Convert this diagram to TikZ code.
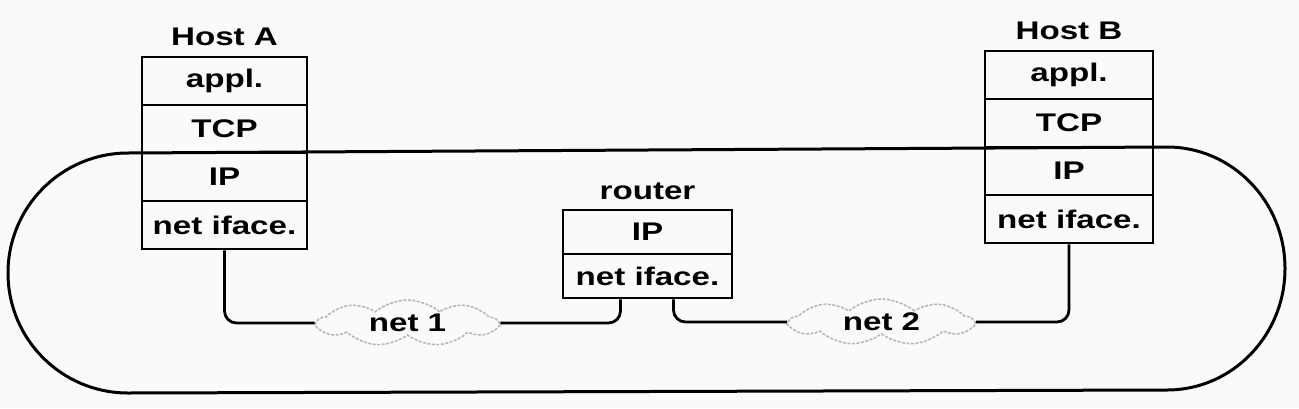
\documentclass[tikz,border=0pt]{standalone}
\usepackage{fontspec}
\setmainfont{Liberation Sans}[FakeStretch=1.3]
\usetikzlibrary{shapes.symbols}
\begin{document}
\begin{tikzpicture}[x=1pt,y=-1pt,
  txt/.style={font=\fontsize{25.5}{28}\selectfont\bfseries, inner sep=0pt},
  cellA/.style={txt, draw, line width=2.6pt, minimum width=165pt, minimum height=48pt},
  cellB/.style={txt, draw, line width=2.6pt, minimum width=168pt, minimum height=48pt},
  cellR/.style={txt, draw, line width=2.6pt, minimum width=169pt, minimum height=44pt},
  netcloud/.style={txt, cloud, cloud puffs=9, cloud puff arc=80, aspect=4, draw=black!28, dash pattern=on 3pt off 1.5pt, line width=1.6pt, minimum height=46pt},
  wire/.style={line width=2.8pt, rounded corners=12pt},
  loop/.style={line width=3pt}]
\fill[black!2] (0,0) rectangle (1299,408);
\useasboundingbox (0,0) rectangle (1299,408);
% loop
\draw[loop] (128,153) -- (1167,147)
  .. controls (1232.2,147) and (1285,201.4) .. (1285,268.5)
  .. controls (1285,335.6) and (1232.2,390) .. (1167,390)
  -- (128,393)
  .. controls (61.7,393) and (8,339.3) .. (8,273)
  .. controls (8,206.7) and (61.7,153) .. (128,153) -- cycle;
% Host A
\node[txt] (hA) at (224.5,37) {Host A};
\node[cellA] (a1) at (224.5,81) {appl.};
\node[cellA] (a2) at (224.5,129) {TCP};
\node[cellA] (a3) at (224.5,177) {IP};
\node[cellA] (a4) at (224.5,225) {net iface.};
% Host B
\node[txt] (hB) at (1069,31) {Host B};
\node[cellB] (b1) at (1069,75) {appl.};
\node[cellB] (b2) at (1069,123) {TCP};
\node[cellB] (b3) at (1069,171) {IP};
\node[cellB] (b4) at (1069,219) {net iface.};
% router
\node[txt] (hR) at (647.5,191) {router};
\node[cellR] (r1) at (647.5,232) {IP};
\node[cellR] (r2) at (647.5,276) {net iface.};
% clouds
\node[netcloud, minimum width=180pt] (n1) at (407.5,323) {net 1};
\node[netcloud, minimum width=183pt] (n2) at (881.5,322) {net 2};
% wires
\draw[wire] (a4.south) |- (n1.west);
\draw[wire] (n1.east) -| ([xshift=-27pt]r2.south);
\draw[wire] ([xshift=26pt]r2.south) |- (n2.west);
\draw[wire] (n2.east) -| (b4.south);
\end{tikzpicture}
\end{document}
